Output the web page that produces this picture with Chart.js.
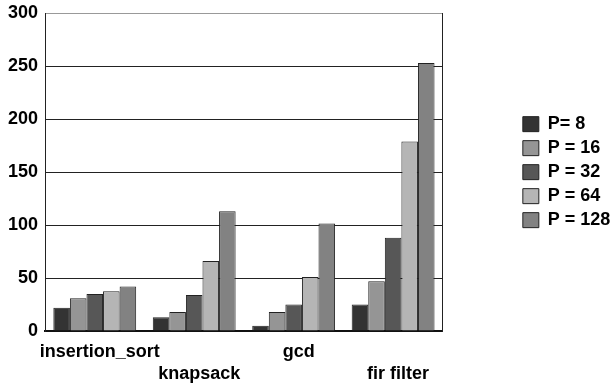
<!DOCTYPE html>
<html>
<head>
<meta charset="utf-8">
<script src="https://cdn.jsdelivr.net/npm/chart.js@4/dist/chart.umd.min.js"></script>
<style>
    html, body { margin: 0; padding: 0; background: #fff; }
    #wrap { width: 613px; height: 387px; }
</style>
</head>
<body>
<div id="wrap"><canvas id="chart"></canvas></div>
<script>
// categories (staggered on two rows like the original)
const categories = [['insertion_sort', ''], ['', 'knapsack'], ['gcd', ''], ['', 'fir filter']];
const seriesLabels = ['P= 8', 'P = 16', 'P = 32', 'P = 64', 'P = 128'];
const seriesColors = ['#333333', '#959595', '#575757', '#b5b5b5', '#828282'];
// values per P, one per category
const p8 = [22, 13, 5, 25];
const p16 = [31, 18, 18, 47];
const p32 = [35, 34, 25, 88];
const p64 = [37.5, 66, 51, 179];
const p128 = [42, 113, 101.5, 253];
const yTicks = [0, 50, 100, 150, 200, 250, 300];

const seriesValues = [p8, p16, p32, p64, p128];
const font = { family: 'Liberation Sans, Arial, sans-serif', size: 18, weight: 'bold' };

new Chart('chart', {
    type: 'bar',
    data: {
        labels: categories,
        datasets: seriesValues.map(function (vals, i) {
            return {
                label: seriesLabels[i],
                data: vals,
                backgroundColor: seriesColors[i],
                borderColor: '#222',
                borderWidth: 1,
                categoryPercentage: 0.833,
                barPercentage: 1.0
            };
        })
    },
    options: {
        responsive: true,
        maintainAspectRatio: false,
        animation: false,
        layout: { padding: { left: 1, top: 0, bottom: 0, right: -7 } },
        scales: {
            x: {
                grid: { display: false },
                border: { display: true, color: '#111', width: 2 },
                ticks: {
                    color: '#000',
                    font: Object.assign({ lineHeight: 1.17 }, font),
                    padding: 3,
                    labelOffset: 5,
                    maxRotation: 0,
                    autoSkip: false
                },
                afterFit: function (scale) { scale.height = 56; }
            },
            y: {
                min: 0,
                max: 300,
                afterBuildTicks: function (scale) {
                    scale.ticks = yTicks.map(function (v) { return { value: v }; });
                },
                grid: {
                    drawTicks: false,
                    color: function (ctx) { return ctx.tick && ctx.tick.value === 300 ? '#999' : '#222'; }
                },
                border: { display: true, color: '#222' },
                ticks: { color: '#000', font: Object.assign({}, font, { lineHeight: 0.7 }), padding: 7 }
            },
            y2: {
                position: 'right',
                grid: { display: false },
                border: { display: true, color: '#222' },
                ticks: { display: false },
                afterFit: function (scale) { scale.width = 74; }
            }
        },
        plugins: {
            legend: {
                display: true,
                position: 'right',
                fullSize: false,
                labels: {
                    color: '#000',
                    font: font,
                    boxWidth: 16,
                    boxHeight: 15,
                    padding: 6
                }
            },
            tooltip: { enabled: false }
        }
    }
});
</script>
</body>
</html>
